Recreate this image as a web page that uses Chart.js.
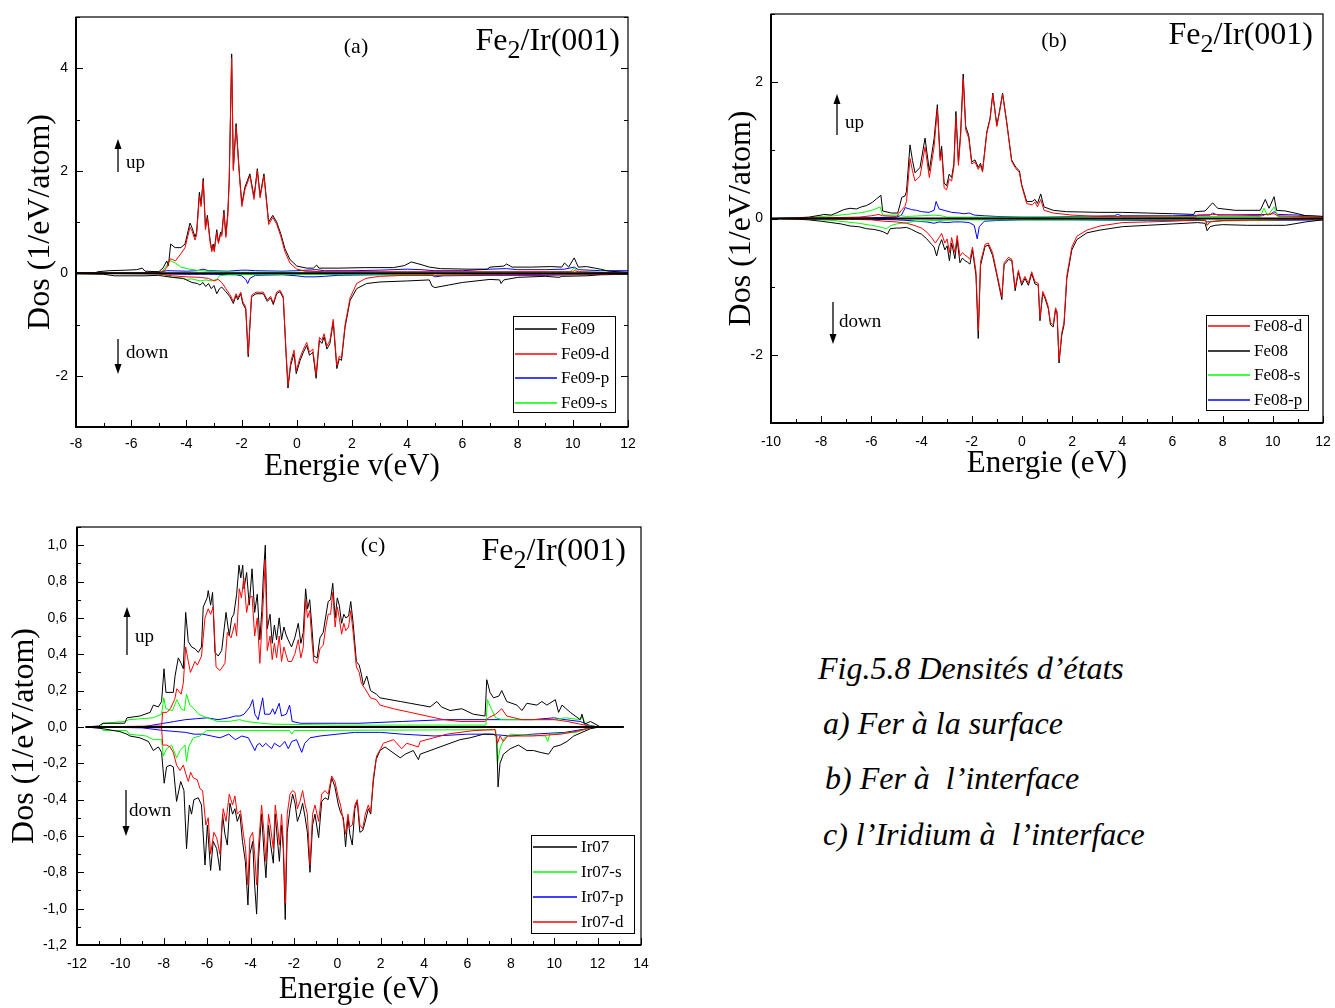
<!DOCTYPE html>
<html>
<head>
<meta charset="utf-8">
<title>Fe2/Ir(001) - densités d'états</title>
<script src="https://cdn.jsdelivr.net/npm/chart.js@4.4.1/dist/chart.umd.min.js"></script>
<style>
body{margin:0;background:#fff;}
#page{position:relative;width:1335px;height:1008px;overflow:hidden;background:#fff;}
canvas{position:absolute;}
.cap{position:absolute;font-family:'Liberation Serif',serif;font-style:italic;font-size:32px;white-space:pre;line-height:1;color:#000;}
</style>
</head>
<body>
<div id="page">
<canvas id="dosA" width="650" height="495" style="left:0;top:0"></canvas>
<canvas id="dosB" width="635" height="495" style="left:700px;top:0"></canvas>
<canvas id="dosC" width="660" height="503" style="left:0;top:505px"></canvas>
<div class="cap" style="left:818px;top:652px">Fig.5.8 Densités d’états</div>
<div class="cap" style="left:823px;top:707px">a) Fer à la surface</div>
<div class="cap" style="left:825px;top:762px">b) Fer à  l’interface</div>
<div class="cap" style="left:823px;top:818px">c) l’Iridium à  l’interface</div>
</div>
<script>
// ---- (a) Fe09, surface : [energie eV, dos] ----
const aLabels = ['Fe09', 'Fe09-d', 'Fe09-p', 'Fe09-s'];
const aXTicks = [-8, -6, -4, -2, 0, 2, 4, 6, 8, 10, 12];
const aYTicks = [-2, 0, 2, 4];
const aTotUp = [[-8,0.01],[-7.3,0.01],[-7.2,0.03],[-6.8,0.05],[-6.2,0.06],[-5.8,0.07],[-5.6,0.1],[-5.5,0.04],[-5.0,0.03],[-4.85,0.1],[-4.71,0.24],[-4.65,0.15],[-4.57,0.57],[-4.41,0.5],[-4.2,0.5],[-4.05,0.57],[-3.87,0.98],[-3.79,0.88],[-3.69,0.71],[-3.63,0.8],[-3.53,1.58],[-3.47,1.35],[-3.39,1.85],[-3.31,0.9],[-3.24,1.13],[-3.14,0.64],[-3.08,0.45],[-3.03,0.57],[-2.99,0.45],[-2.9,0.85],[-2.84,0.61],[-2.76,0.8],[-2.72,0.76],[-2.64,1.23],[-2.57,0.74],[-2.5,1.18],[-2.45,1.81],[-2.36,4.28],[-2.3,2.04],[-2.2,2.92],[-2.16,2.6],[-2.08,1.94],[-1.99,1.35],[-1.88,1.68],[-1.7,1.94],[-1.55,1.49],[-1.43,2.04],[-1.33,1.52],[-1.19,1.94],[-1.02,1.0],[-0.87,1.13],[-0.73,1.0],[-0.58,0.77],[-0.43,0.48],[-0.25,0.27],[0.0,0.14],[0.36,0.1],[0.6,0.1],[0.72,0.16],[0.8,0.1],[1.5,0.1],[2.5,0.11],[3.5,0.11],[3.9,0.15],[4.15,0.22],[4.5,0.17],[4.8,0.12],[5.2,0.09],[6.2,0.08],[6.9,0.08],[7.0,0.12],[7.5,0.14],[7.6,0.18],[7.8,0.12],[8.5,0.12],[9.2,0.13],[9.6,0.12],[9.7,0.2],[9.85,0.12],[10.05,0.3],[10.2,0.12],[10.5,0.13],[10.8,0.1],[11.0,0.08],[11.3,0.04],[12,0.02]];
const aTotDn = [[-8,-0.01],[-7,-0.02],[-6.6,-0.05],[-5.5,-0.05],[-5,-0.04],[-4.8,-0.06],[-4.5,-0.08],[-4.11,-0.1],[-4.0,-0.13],[-3.8,-0.18],[-3.6,-0.2],[-3.51,-0.23],[-3.4,-0.18],[-3.3,-0.26],[-3.2,-0.2],[-3.1,-0.3],[-3.0,-0.24],[-2.9,-0.4],[-2.8,-0.3],[-2.72,-0.27],[-2.57,-0.36],[-2.42,-0.46],[-2.3,-0.59],[-2.2,-0.43],[-2.14,-0.52],[-2.03,-0.4],[-1.96,-0.59],[-1.85,-0.7],[-1.76,-1.63],[-1.64,-0.46],[-1.48,-0.4],[-1.21,-0.4],[-1.07,-0.55],[-0.95,-0.48],[-0.85,-0.61],[-0.73,-0.4],[-0.61,-0.36],[-0.49,-0.48],[-0.39,-1.57],[-0.32,-2.24],[-0.22,-1.79],[-0.1,-1.57],[-0.02,-1.96],[0.12,-1.7],[0.24,-1.54],[0.36,-1.41],[0.46,-1.6],[0.58,-1.54],[0.7,-2.05],[0.82,-1.31],[0.91,-1.37],[0.99,-1.24],[1.09,-1.48],[1.2,-1.37],[1.32,-0.95],[1.45,-1.86],[1.54,-1.67],[1.62,-1.7],[1.75,-1.05],[1.93,-0.53],[2.17,-0.3],[2.53,-0.2],[3.01,-0.17],[4,-0.15],[4.8,-0.13],[4.9,-0.25],[5.0,-0.28],[5.5,-0.23],[6,-0.18],[7,-0.12],[7.35,-0.13],[7.4,-0.2],[7.5,-0.13],[8,-0.08],[9,-0.06],[9.5,-0.08],[9.6,-0.06],[10.5,-0.05],[11,-0.03],[12,-0.02]];
const aDUp = [[-8,0.0],[-5,0.01],[-4.8,0.05],[-4.7,0.12],[-4.6,0.28],[-4.5,0.27],[-4.4,0.24],[-4.2,0.38],[-4.05,0.5],[-3.87,0.9],[-3.79,0.82],[-3.69,0.65],[-3.63,0.75],[-3.53,1.5],[-3.47,1.3],[-3.39,1.8],[-3.31,0.85],[-3.24,1.08],[-3.14,0.6],[-3.08,0.42],[-3.03,0.53],[-2.99,0.42],[-2.9,0.8],[-2.84,0.58],[-2.76,0.76],[-2.72,0.72],[-2.64,1.18],[-2.57,0.7],[-2.5,1.12],[-2.45,1.76],[-2.36,4.2],[-2.3,2.0],[-2.2,2.86],[-2.16,2.55],[-2.08,1.9],[-1.99,1.3],[-1.88,1.63],[-1.7,1.9],[-1.55,1.44],[-1.43,2.0],[-1.33,1.47],[-1.19,1.9],[-1.02,0.95],[-0.87,1.09],[-0.73,0.96],[-0.58,0.72],[-0.43,0.42],[-0.25,0.2],[0.0,0.08],[0.3,0.04],[1,0.03],[4,0.03],[7,0.03],[10,0.03],[10.05,0.05],[10.2,0.03],[11.3,0.01],[12,0.0]];
const aDDn = [[-8,0],[-5,-0.01],[-4.8,-0.03],[-4.5,-0.05],[-4,-0.07],[-3.5,-0.08],[-3.2,-0.1],[-3.0,-0.15],[-2.85,-0.12],[-2.72,-0.18],[-2.57,-0.3],[-2.42,-0.42],[-2.3,-0.55],[-2.2,-0.4],[-2.14,-0.48],[-2.03,-0.37],[-1.96,-0.55],[-1.85,-0.66],[-1.76,-1.58],[-1.64,-0.43],[-1.48,-0.37],[-1.21,-0.37],[-1.07,-0.52],[-0.95,-0.45],[-0.85,-0.58],[-0.73,-0.37],[-0.61,-0.33],[-0.49,-0.45],[-0.39,-1.52],[-0.32,-2.18],[-0.22,-1.73],[-0.1,-1.5],[-0.02,-1.9],[0.12,-1.64],[0.24,-1.48],[0.36,-1.35],[0.46,-1.54],[0.58,-1.48],[0.7,-1.98],[0.82,-1.25],[0.91,-1.31],[0.99,-1.18],[1.09,-1.42],[1.2,-1.31],[1.32,-0.9],[1.45,-1.8],[1.54,-1.62],[1.62,-1.65],[1.75,-1.0],[1.93,-0.48],[2.17,-0.2],[2.5,-0.1],[3,-0.06],[4,-0.04],[5,-0.04],[7,-0.03],[12,-0.01]];
const aPUp = [[-8,0.0],[-6,0.01],[-5,0.02],[-4.7,0.05],[-4,0.04],[-3.6,0.05],[-3.4,0.08],[-3.2,0.05],[-2.5,0.04],[-2.0,0.06],[-1.8,0.06],[-1.5,0.05],[-0.5,0.04],[0,0.05],[0.7,0.07],[1,0.05],[2,0.05],[3,0.06],[4,0.08],[4.5,0.07],[5,0.05],[6,0.05],[7,0.08],[7.6,0.09],[8,0.07],[9,0.07],[9.7,0.08],[10.05,0.12],[10.2,0.07],[11,0.05],[12,0.05]];
const aPDn = [[-8,0],[-5,-0.01],[-4,-0.02],[-3,-0.02],[-2.2,-0.03],[-2.0,-0.05],[-1.85,-0.12],[-1.78,-0.2],[-1.7,-0.1],[-1.5,-0.04],[-0.5,-0.03],[0,-0.05],[0.3,-0.07],[0.7,-0.07],[1,-0.06],[1.5,-0.04],[3,-0.03],[4.9,-0.04],[5.0,-0.07],[5.3,-0.05],[7,-0.04],[9,-0.04],[10,-0.03],[12,-0.02]];
const aSUp = [[-8,0],[-7,0.01],[-5.5,0.01],[-4.9,0.03],[-4.75,0.12],[-4.6,0.25],[-4.4,0.2],[-4.2,0.12],[-3.9,0.08],[-3.5,0.05],[-3,0.03],[-2,0.02],[0,0.02],[4,0.02],[9.9,0.03],[10.05,0.1],[10.2,0.03],[12,0.01]];
const aSDn = [[-8,0],[-5,-0.01],[-4.8,-0.03],[-4.5,-0.08],[-4.2,-0.1],[-4.0,-0.12],[-3.8,-0.11],[-3.5,-0.15],[-3.3,-0.13],[-3.1,-0.15],[-2.9,-0.12],[-2.8,-0.05],[-2.5,-0.03],[-1,-0.02],[4.9,-0.02],[5,-0.05],[5.3,-0.03],[12,-0.01]];

// ---- (b) Fe08, interface ----
const bLabels = ['Fe08-d', 'Fe08', 'Fe08-s', 'Fe08-p'];
const bXTicks = [-10, -8, -6, -4, -2, 0, 2, 4, 6, 8, 10, 12];
const bYTicks = [-2, 0, 2];
const bDUp = [[-10,0],[-8,0.01],[-6.5,0.02],[-6,0.04],[-5.7,0.06],[-5.55,0.04],[-5,0.03],[-4.8,0.12],[-4.66,0.18],[-4.6,0.25],[-4.46,0.88],[-4.36,0.7],[-4.26,0.55],[-4.06,0.62],[-3.86,1.05],[-3.69,0.6],[-3.5,1.05],[-3.37,1.6],[-3.26,0.85],[-3.2,0.98],[-3.1,0.45],[-3.0,0.42],[-2.9,0.58],[-2.8,0.55],[-2.71,0.76],[-2.63,1.5],[-2.53,0.78],[-2.44,1.22],[-2.34,2.05],[-2.24,1.3],[-2.12,1.18],[-2.0,0.8],[-1.87,0.83],[-1.74,0.72],[-1.65,0.78],[-1.57,0.68],[-1.4,1.25],[-1.27,1.45],[-1.16,1.82],[-1.0,1.35],[-0.9,1.54],[-0.77,1.82],[-0.61,1.41],[-0.41,0.84],[-0.24,0.73],[-0.1,0.68],[-0.01,0.48],[0.19,0.22],[0.41,0.2],[0.52,0.24],[0.62,0.17],[0.75,0.28],[0.88,0.12],[1.25,0.08],[2,0.05],[3,0.03],[6,0.02],[6.9,0.02],[7.0,0.05],[7.6,0.06],[9.6,0.04],[9.7,0.06],[10.05,0.07],[10.2,0.04],[12,0.02]];
const bDDn = [[-10,0],[-7,-0.01],[-6,-0.02],[-5.5,-0.04],[-5,-0.05],[-4.6,-0.07],[-4.3,-0.1],[-4.0,-0.14],[-3.79,-0.2],[-3.6,-0.28],[-3.45,-0.36],[-3.3,-0.28],[-3.2,-0.22],[-3.07,-0.36],[-2.98,-0.3],[-2.89,-0.5],[-2.8,-0.28],[-2.67,-0.5],[-2.58,-0.25],[-2.47,-0.55],[-2.37,-0.5],[-2.27,-0.54],[-2.17,-0.56],[-2.07,-0.6],[-1.97,-0.42],[-1.83,-0.78],[-1.74,-1.65],[-1.65,-0.64],[-1.47,-0.38],[-1.34,-0.36],[-1.17,-0.5],[-1.0,-0.8],[-0.8,-1.15],[-0.71,-0.65],[-0.53,-0.57],[-0.4,-0.6],[-0.27,-1.02],[-0.14,-0.76],[-0.01,-0.95],[0.12,-0.85],[0.26,-0.95],[0.39,-0.78],[0.52,-0.93],[0.65,-0.95],[0.72,-1.46],[0.83,-1.07],[0.92,-1.14],[1.05,-1.29],[1.14,-1.53],[1.25,-1.56],[1.34,-1.31],[1.4,-1.36],[1.48,-2.08],[1.59,-1.67],[1.68,-1.52],[1.79,-0.84],[1.99,-0.42],[2.19,-0.26],[2.59,-0.17],[3.11,-0.11],[4,-0.06],[5,-0.05],[6,-0.04],[7,-0.02],[7.33,-0.03],[7.38,-0.1],[7.5,-0.05],[8,-0.03],[12,-0.01]];
const bTotUp = [[-10,0.0],[-9,0.01],[-8.5,0.02],[-8,0.05],[-7.9,0.06],[-7.6,0.05],[-7.4,0.08],[-7.1,0.13],[-6.85,0.15],[-6.6,0.14],[-6.4,0.17],[-6.19,0.19],[-5.95,0.24],[-5.79,0.29],[-5.62,0.34],[-5.55,0.11],[-5.2,0.08],[-4.95,0.08],[-4.86,0.2],[-4.79,0.31],[-4.66,0.33],[-4.6,0.4],[-4.46,1.08],[-4.36,0.85],[-4.26,0.67],[-4.06,0.75],[-3.86,1.18],[-3.69,0.7],[-3.5,1.17],[-3.37,1.67],[-3.26,0.9],[-3.2,1.06],[-3.1,0.52],[-3.0,0.48],[-2.9,0.65],[-2.8,0.6],[-2.71,0.81],[-2.63,1.57],[-2.53,0.83],[-2.44,1.27],[-2.34,2.12],[-2.24,1.35],[-2.12,1.22],[-2.0,0.83],[-1.87,0.86],[-1.74,0.75],[-1.65,0.81],[-1.57,0.7],[-1.4,1.27],[-1.27,1.47],[-1.16,1.84],[-1.0,1.37],[-0.9,1.56],[-0.77,1.84],[-0.61,1.43],[-0.41,0.86],[-0.24,0.75],[-0.1,0.7],[-0.01,0.5],[0.19,0.25],[0.41,0.25],[0.52,0.28],[0.62,0.22],[0.75,0.36],[0.88,0.17],[1.25,0.12],[1.78,0.1],[3.11,0.09],[4,0.09],[5,0.08],[6,0.07],[6.85,0.06],[6.9,0.1],[7.3,0.11],[7.6,0.23],[7.8,0.15],[8.5,0.12],[9.5,0.12],[9.7,0.28],[9.85,0.15],[10.05,0.32],[10.15,0.12],[10.5,0.11],[11,0.07],[11.3,0.04],[12,0.03]];
const bTotDn = [[-10,0],[-9,-0.01],[-8.5,-0.02],[-8,-0.04],[-7.6,-0.06],[-7.2,-0.08],[-6.85,-0.11],[-6.5,-0.12],[-6.19,-0.15],[-5.9,-0.16],[-5.66,-0.18],[-5.5,-0.2],[-5.36,-0.23],[-5.25,-0.15],[-5.0,-0.14],[-4.86,-0.14],[-4.6,-0.13],[-4.4,-0.16],[-4.19,-0.2],[-4.0,-0.23],[-3.79,-0.3],[-3.6,-0.38],[-3.5,-0.42],[-3.4,-0.55],[-3.3,-0.4],[-3.2,-0.31],[-3.07,-0.46],[-2.98,-0.4],[-2.89,-0.62],[-2.8,-0.36],[-2.67,-0.59],[-2.58,-0.31],[-2.47,-0.65],[-2.37,-0.58],[-2.27,-0.62],[-2.17,-0.64],[-2.07,-0.67],[-1.97,-0.46],[-1.83,-0.84],[-1.74,-1.76],[-1.65,-0.69],[-1.47,-0.41],[-1.34,-0.39],[-1.17,-0.54],[-1.0,-0.83],[-0.8,-1.19],[-0.71,-0.68],[-0.53,-0.6],[-0.4,-0.62],[-0.27,-1.06],[-0.14,-0.79],[-0.01,-0.98],[0.12,-0.88],[0.26,-0.98],[0.39,-0.81],[0.52,-0.96],[0.65,-0.98],[0.72,-1.5],[0.83,-1.1],[0.92,-1.17],[1.05,-1.32],[1.14,-1.56],[1.25,-1.59],[1.34,-1.34],[1.4,-1.39],[1.48,-2.12],[1.59,-1.71],[1.68,-1.56],[1.79,-0.88],[1.99,-0.46],[2.19,-0.31],[2.59,-0.21],[3.11,-0.17],[4,-0.12],[5,-0.1],[6,-0.08],[7,-0.06],[7.3,-0.07],[7.38,-0.18],[7.5,-0.12],[7.7,-0.1],[8,-0.09],[9,-0.1],[10,-0.1],[10.5,-0.1],[11,-0.07],[11.3,-0.05],[12,-0.02]];
const bSUp = [[-10,0],[-8.5,0.01],[-8,0.03],[-7.5,0.04],[-7,0.06],[-6.5,0.08],[-6.2,0.1],[-5.9,0.13],[-5.65,0.17],[-5.55,0.05],[-5,0.05],[-4.6,0.03],[-4,0.04],[-3.5,0.05],[-3.2,0.04],[-3,0.02],[0,0.02],[9.5,0.03],[9.65,0.15],[9.8,0.04],[10.05,0.17],[10.2,0.03],[12,0.01]];
const bSDn = [[-10,0],[-8.5,-0.01],[-8,-0.02],[-7.5,-0.03],[-7,-0.05],[-6.5,-0.07],[-6.0,-0.1],[-5.7,-0.12],[-5.4,-0.15],[-5.2,-0.1],[-5,-0.08],[-4.6,-0.06],[-4.2,-0.04],[-3.5,-0.03],[-2.5,-0.02],[7.3,-0.02],[7.38,-0.1],[7.5,-0.04],[12,-0.01]];
const bPUp = [[-10,0],[-6,0.01],[-5,0.02],[-4.8,0.05],[-4.65,0.16],[-4.4,0.13],[-4.2,0.12],[-4,0.1],[-3.7,0.09],[-3.5,0.12],[-3.42,0.25],[-3.3,0.14],[-3.1,0.12],[-2.8,0.09],[-2.5,0.08],[-2.3,0.07],[-2.1,0.08],[-1.9,0.05],[-1.5,0.04],[-1,0.03],[0,0.02],[1,0.02],[2,0.03],[3.7,0.04],[3.8,0.06],[4,0.04],[6,0.04],[7.5,0.05],[7.6,0.08],[7.8,0.05],[9.9,0.06],[10.05,0.1],[10.2,0.06],[11,0.05],[12,0.03]];
const bPDn = [[-10,0],[-6,-0.01],[-5,-0.02],[-4.5,-0.03],[-4.2,-0.04],[-3.8,-0.05],[-3.5,-0.07],[-3.3,-0.05],[-3,-0.06],[-2.7,-0.05],[-2.4,-0.05],[-2.1,-0.06],[-1.9,-0.1],[-1.78,-0.3],[-1.7,-0.12],[-1.5,-0.04],[-1,-0.03],[0,-0.02],[2,-0.02],[5,-0.03],[7.3,-0.03],[7.4,-0.05],[8,-0.03],[10,-0.03],[12,-0.02]];

// ---- (c) Ir07, interface ----
const cLabels = ['Ir07', 'Ir07-s', 'Ir07-p', 'Ir07-d'];
const cXTicks = [-12, -10, -8, -6, -4, -2, 0, 2, 4, 6, 8, 10, 12, 14];
const cYTicks = [-1.2, -1.0, -0.8, -0.6, -0.4, -0.2, 0.0, 0.2, 0.4, 0.6, 0.8, 1.0];
const cTotUp = [[-11.6,0],[-11,0.005],[-10.8,0.02],[-9.8,0.02],[-9.7,0.05],[-9.1,0.06],[-8.63,0.08],[-8.48,0.12],[-8.25,0.11],[-8.1,0.14],[-7.99,0.32],[-7.9,0.19],[-7.56,0.19],[-7.48,0.28],[-7.33,0.38],[-7.2,0.35],[-7.1,0.32],[-6.99,0.63],[-6.87,0.47],[-6.72,0.44],[-6.56,0.43],[-6.41,0.41],[-6.26,0.44],[-6.18,0.66],[-6.0,0.71],[-5.95,0.75],[-5.84,0.67],[-5.75,0.74],[-5.64,0.41],[-5.49,0.39],[-5.33,0.42],[-5.13,0.63],[-4.98,0.5],[-4.87,0.6],[-4.77,0.62],[-4.64,0.73],[-4.53,0.89],[-4.45,0.82],[-4.36,0.89],[-4.3,0.76],[-4.18,0.85],[-4.06,0.67],[-3.93,0.87],[-3.81,0.63],[-3.69,0.73],[-3.57,0.48],[-3.48,0.64],[-3.41,0.83],[-3.32,1.0],[-3.23,0.54],[-3.1,0.62],[-3.0,0.46],[-2.9,0.56],[-2.8,0.48],[-2.68,0.6],[-2.57,0.48],[-2.46,0.55],[-2.37,0.51],[-2.27,0.48],[-2.11,0.44],[-1.96,0.49],[-1.8,0.57],[-1.68,0.46],[-1.57,0.52],[-1.46,0.76],[-1.37,0.65],[-1.27,0.7],[-1.16,0.53],[-1.08,0.39],[-0.93,0.38],[-0.8,0.49],[-0.65,0.52],[-0.53,0.61],[-0.42,0.69],[-0.31,0.7],[-0.21,0.79],[-0.1,0.6],[0.0,0.71],[0.09,0.67],[0.2,0.57],[0.3,0.62],[0.39,0.6],[0.52,0.61],[0.62,0.69],[0.73,0.57],[0.88,0.36],[1.01,0.34],[1.11,0.29],[1.2,0.23],[1.36,0.28],[1.53,0.2],[1.8,0.18],[1.97,0.16],[2.43,0.15],[2.9,0.14],[3.36,0.13],[3.82,0.12],[4.28,0.11],[4.59,0.14],[4.8,0.11],[5.2,0.09],[5.74,0.1],[6.27,0.07],[6.81,0.06],[6.89,0.26],[7.04,0.19],[7.2,0.16],[7.45,0.17],[7.58,0.2],[7.81,0.14],[8.28,0.12],[8.51,0.09],[8.74,0.13],[9.2,0.12],[9.43,0.14],[9.66,0.12],[10.05,0.15],[10.2,0.08],[10.36,0.12],[10.74,0.08],[11.2,0.04],[11.28,0.07],[11.39,0.015],[11.67,0.03],[12.13,0.0],[13.2,0]];
const cTotDn = [[-11.6,0],[-10.8,-0.01],[-10.02,-0.026],[-9.7,-0.04],[-9.56,-0.05],[-9.1,-0.06],[-8.71,-0.08],[-8.48,-0.13],[-8.25,-0.11],[-8.1,-0.14],[-7.98,-0.31],[-7.87,-0.22],[-7.71,-0.21],[-7.56,-0.22],[-7.41,-0.41],[-7.22,-0.3],[-7.07,-0.35],[-6.95,-0.67],[-6.82,-0.43],[-6.72,-0.48],[-6.61,-0.4],[-6.41,-0.39],[-6.26,-0.43],[-6.1,-0.76],[-5.99,-0.54],[-5.84,-0.79],[-5.72,-0.63],[-5.56,-0.67],[-5.41,-0.79],[-5.29,-0.48],[-5.18,-0.59],[-5.07,-0.65],[-4.95,-0.42],[-4.83,-0.48],[-4.72,-0.45],[-4.61,-0.52],[-4.49,-0.48],[-4.37,-0.63],[-4.24,-0.74],[-4.12,-0.98],[-4.03,-0.7],[-3.9,-0.63],[-3.81,-0.87],[-3.72,-1.03],[-3.63,-0.72],[-3.49,-0.48],[-3.38,-0.69],[-3.29,-0.83],[-3.17,-0.54],[-3.07,-0.65],[-2.95,-0.75],[-2.86,-0.48],[-2.77,-0.61],[-2.67,-0.74],[-2.57,-0.54],[-2.49,-0.67],[-2.4,-1.06],[-2.31,-0.58],[-2.18,-0.45],[-2.06,-0.37],[-1.95,-0.42],[-1.84,-0.52],[-1.72,-0.48],[-1.6,-0.42],[-1.48,-0.5],[-1.38,-0.58],[-1.26,-0.8],[-1.14,-0.54],[-1.03,-0.48],[-0.86,-0.61],[-0.72,-0.41],[-0.57,-0.39],[-0.42,-0.4],[-0.26,-0.28],[-0.11,-0.33],[0.05,-0.43],[0.15,-0.47],[0.28,-0.5],[0.38,-0.66],[0.49,-0.5],[0.58,-0.59],[0.69,-0.65],[0.81,-0.45],[0.92,-0.41],[1.04,-0.58],[1.17,-0.57],[1.29,-0.52],[1.43,-0.45],[1.54,-0.48],[1.66,-0.3],[1.79,-0.18],[1.97,-0.13],[2.2,-0.11],[2.43,-0.13],[2.9,-0.17],[3.13,-0.15],[3.5,-0.13],[3.74,-0.18],[3.82,-0.15],[4.28,-0.13],[4.74,-0.11],[5.2,-0.09],[5.66,-0.07],[6.12,-0.06],[6.74,-0.04],[7.2,-0.04],[7.35,-0.05],[7.41,-0.33],[7.5,-0.2],[7.66,-0.15],[7.97,-0.12],[8.35,-0.1],[8.74,-0.13],[9.05,-0.13],[9.35,-0.14],[9.74,-0.15],[9.97,-0.11],[10.28,-0.1],[10.59,-0.08],[10.9,-0.05],[11.28,-0.03],[11.67,-0.01],[12.1,0],[13.2,0]];
const cSUp = [[-11.6,0],[-10.9,0.0],[-10.8,0.02],[-9.8,0.03],[-9.6,0.04],[-8.5,0.05],[-8.1,0.07],[-8.0,0.16],[-7.9,0.1],[-7.6,0.09],[-7.4,0.15],[-7.2,0.1],[-7.05,0.09],[-6.95,0.18],[-6.8,0.12],[-6.6,0.1],[-6.4,0.07],[-6.0,0.05],[-5.5,0.03],[-5.0,0.03],[-4.5,0.04],[-4.2,0.03],[-3.5,0.02],[-3.0,0.015],[0,0.01],[6.85,0.01],[6.92,0.15],[7.1,0.1],[7.3,0.05],[7.6,0.04],[10,0.04],[10.5,0.05],[11.2,0.04],[11.3,0.06],[11.45,0.01],[12,0],[13.2,0]];
const cSDn = [[-11.6,0],[-10.9,0],[-10.8,-0.02],[-9.7,-0.02],[-9.6,-0.04],[-8.8,-0.05],[-8.48,-0.07],[-8.1,-0.07],[-8.02,-0.16],[-7.87,-0.12],[-7.64,-0.1],[-7.41,-0.17],[-7.25,-0.13],[-7.02,-0.1],[-6.95,-0.19],[-6.85,-0.11],[-6.64,-0.06],[-6.33,-0.05],[-6.02,-0.02],[-2.2,-0.02],[-2.1,-0.04],[-2.0,-0.02],[7.3,-0.015],[7.38,-0.2],[7.5,-0.12],[7.7,-0.06],[8,-0.04],[9.6,-0.05],[9.7,-0.08],[9.8,-0.04],[11,-0.03],[11.5,-0.01],[12,0],[13.2,0]];
const cPUp = [[-11.6,0],[-9,0.0],[-8.5,0.01],[-8,0.02],[-7.5,0.03],[-7,0.04],[-6.5,0.045],[-6,0.05],[-5.5,0.04],[-5,0.05],[-4.7,0.06],[-4.49,0.06],[-4.3,0.07],[-4.03,0.11],[-3.9,0.15],[-3.8,0.07],[-3.65,0.04],[-3.44,0.16],[-3.35,0.07],[-3.1,0.07],[-2.98,0.1],[-2.88,0.07],[-2.68,0.13],[-2.57,0.06],[-2.35,0.07],[-2.2,0.12],[-2.08,0.03],[-1.7,0.02],[0,0.02],[1,0.02],[3,0.03],[5,0.04],[7,0.04],[9,0.04],[10,0.05],[10.5,0.04],[11.2,0.03],[11.6,0.01],[12,0],[13.2,0]];
const cPDn = [[-11.6,0],[-9,-0.005],[-8,-0.02],[-7,-0.03],[-6.6,-0.04],[-6.2,-0.04],[-5.8,-0.05],[-5.41,-0.06],[-5.0,-0.04],[-4.7,-0.07],[-4.4,-0.05],[-4.1,-0.06],[-3.8,-0.13],[-3.7,-0.1],[-3.58,-0.09],[-3.45,-0.11],[-3.3,-0.09],[-3.03,-0.12],[-2.9,-0.09],[-2.65,-0.11],[-2.42,-0.08],[-2.26,-0.12],[-2.1,-0.08],[-1.88,-0.07],[-1.64,-0.14],[-1.5,-0.09],[-1.26,-0.06],[-0.8,-0.05],[0,-0.04],[0.8,-0.03],[2,-0.03],[3,-0.04],[4.5,-0.05],[6,-0.04],[7,-0.04],[8,-0.05],[9,-0.04],[10.5,-0.03],[11.5,-0.01],[12,0],[13.2,0]];
const cDUp = [[-11.6,0],[-8.1,0.005],[-8.05,0.08],[-7.85,0.08],[-7.7,0.1],[-7.5,0.15],[-7.4,0.21],[-7.2,0.18],[-7.1,0.24],[-6.99,0.44],[-6.9,0.38],[-6.77,0.3],[-6.56,0.36],[-6.45,0.34],[-6.26,0.39],[-6.1,0.6],[-5.95,0.65],[-5.84,0.62],[-5.72,0.66],[-5.59,0.33],[-5.41,0.31],[-5.18,0.35],[-5.07,0.52],[-4.9,0.49],[-4.72,0.57],[-4.64,0.5],[-4.52,0.76],[-4.42,0.71],[-4.31,0.82],[-4.18,0.63],[-4.06,0.71],[-3.93,0.72],[-3.81,0.5],[-3.69,0.6],[-3.57,0.35],[-3.48,0.55],[-3.41,0.7],[-3.32,0.92],[-3.23,0.42],[-3.1,0.5],[-3.0,0.37],[-2.9,0.46],[-2.8,0.38],[-2.68,0.5],[-2.57,0.36],[-2.46,0.44],[-2.37,0.4],[-2.27,0.36],[-2.11,0.36],[-1.96,0.4],[-1.8,0.48],[-1.68,0.38],[-1.57,0.44],[-1.46,0.7],[-1.37,0.6],[-1.27,0.64],[-1.16,0.46],[-1.08,0.36],[-0.93,0.35],[-0.8,0.43],[-0.65,0.45],[-0.53,0.55],[-0.42,0.62],[-0.31,0.62],[-0.21,0.74],[-0.1,0.55],[0.0,0.66],[0.09,0.6],[0.2,0.51],[0.3,0.57],[0.39,0.53],[0.52,0.55],[0.62,0.64],[0.73,0.52],[0.88,0.33],[1.01,0.3],[1.11,0.24],[1.28,0.21],[1.53,0.16],[1.8,0.15],[1.97,0.12],[2.59,0.1],[3.36,0.08],[4.13,0.06],[4.9,0.04],[5.66,0.03],[6.81,0.03],[6.97,0.05],[7.3,0.07],[7.58,0.1],[7.81,0.06],[8.5,0.04],[10,0.04],[10.6,0.03],[11.2,0.015],[11.8,0.0],[13.2,0]];
const cDDn = [[-11.6,0],[-8.1,-0.005],[-8.05,-0.1],[-7.87,-0.1],[-7.71,-0.11],[-7.56,-0.14],[-7.41,-0.21],[-7.25,-0.24],[-7.1,-0.21],[-6.98,-0.26],[-6.87,-0.3],[-6.76,-0.25],[-6.64,-0.28],[-6.46,-0.29],[-6.33,-0.34],[-6.21,-0.35],[-6.06,-0.54],[-5.95,-0.5],[-5.84,-0.7],[-5.69,-0.58],[-5.56,-0.61],[-5.41,-0.7],[-5.26,-0.45],[-5.13,-0.52],[-4.98,-0.37],[-4.83,-0.43],[-4.72,-0.38],[-4.61,-0.48],[-4.46,-0.46],[-4.33,-0.59],[-4.23,-0.67],[-4.12,-0.87],[-4.03,-0.61],[-3.9,-0.58],[-3.81,-0.7],[-3.72,-0.87],[-3.63,-0.65],[-3.49,-0.43],[-3.38,-0.58],[-3.29,-0.74],[-3.17,-0.48],[-3.07,-0.56],[-2.95,-0.67],[-2.86,-0.43],[-2.77,-0.52],[-2.67,-0.65],[-2.57,-0.48],[-2.49,-0.63],[-2.4,-0.97],[-2.31,-0.48],[-2.18,-0.37],[-2.06,-0.35],[-1.95,-0.36],[-1.84,-0.45],[-1.72,-0.41],[-1.6,-0.35],[-1.48,-0.43],[-1.38,-0.48],[-1.26,-0.76],[-1.14,-0.48],[-1.03,-0.43],[-0.86,-0.52],[-0.72,-0.37],[-0.57,-0.35],[-0.42,-0.37],[-0.26,-0.27],[-0.11,-0.3],[0.05,-0.39],[0.15,-0.43],[0.28,-0.52],[0.38,-0.59],[0.49,-0.48],[0.58,-0.55],[0.69,-0.54],[0.81,-0.43],[0.92,-0.4],[1.04,-0.54],[1.17,-0.56],[1.29,-0.48],[1.43,-0.43],[1.54,-0.47],[1.66,-0.28],[1.81,-0.16],[2.0,-0.12],[2.12,-0.09],[2.59,-0.07],[2.97,-0.12],[3.2,-0.09],[3.74,-0.11],[3.82,-0.08],[4.44,-0.06],[5.05,-0.04],[5.66,-0.03],[6.3,-0.02],[7.27,-0.015],[7.38,-0.09],[7.5,-0.05],[7.66,-0.08],[7.85,-0.05],[9,-0.05],[10.3,-0.04],[11.2,-0.02],[11.8,0],[13.2,0]];

const BLACK = '#000000', RED = '#ff0000', BLUE = '#0000ff', GREEN = '#00ff00';
const SERIF = '"Liberation Serif", "Times New Roman", serif';

Chart.defaults.font.family = '"Liberation Sans", Arial, sans-serif';
Chart.defaults.color = '#000';

// up-spin then a gap, then down-spin, as one line per orbital
function spin(up, down) {
  const pts = a => a.map(p => ({x: p[0], y: p[1]}));
  return pts(up).concat([{x: up[up.length - 1][0], y: null}], pts(down));
}

function arrow(ctx, x, yFrom, yTo) {
  const dir = yTo > yFrom ? 1 : -1;
  ctx.beginPath();
  ctx.moveTo(x, yFrom);
  ctx.lineTo(x, yTo - dir * 8);
  ctx.lineWidth = 1.3;
  ctx.stroke();
  ctx.beginPath();
  ctx.moveTo(x, yTo);
  ctx.lineTo(x - 3.5, yTo - dir * 10);
  ctx.lineTo(x + 3.5, yTo - dir * 10);
  ctx.closePath();
  ctx.fill();
}

function formula(ctx, xRight, yMid) {
  const big = '32px ' + SERIF, sub = '26px ' + SERIF;
  ctx.font = big;
  const w1 = ctx.measureText('Fe').width, w3 = ctx.measureText('/Ir(001)').width;
  ctx.font = sub;
  const w2 = ctx.measureText('2').width;
  let x = xRight - w1 - w2 - w3;
  ctx.textAlign = 'left';
  ctx.textBaseline = 'middle';
  ctx.font = big; ctx.fillText('Fe', x, yMid); x += w1;
  ctx.font = sub; ctx.fillText('2', x, yMid + 9); x += w2;
  ctx.font = big; ctx.fillText('/Ir(001)', x, yMid);
}

// zero line, frame, inward ticks, legend box and the labels inside the plot
function decorations(o) {
  return {
    id: 'deco',
    afterDatasetsDraw(chart) {
      const ctx = chart.ctx, a = chart.chartArea;
      const xs = chart.scales.x, ys = chart.scales.y;
      ctx.save();
      ctx.strokeStyle = '#000';
      ctx.fillStyle = '#000';

      const y0 = ys.getPixelForValue(0);
      ctx.lineWidth = 2;
      ctx.beginPath();
      ctx.moveTo(Math.max(a.left, xs.getPixelForValue(o.zeroFrom)), y0);
      ctx.lineTo(Math.min(a.right, xs.getPixelForValue(o.zeroTo)), y0);
      ctx.stroke();

      ctx.lineWidth = 1;
      const isMajor = (v, list) => list.some(t => Math.abs(t - v) < 1e-6);
      let n = Math.round((o.xMax - o.xMin) / o.xMinor);
      for (let i = 0; i <= n; i++) {
        const v = o.xMin + i * o.xMinor;
        const px = Math.round(xs.getPixelForValue(v)) + 0.5;
        const len = isMajor(v, o.xTicks) ? 7 : 4;
        ctx.beginPath(); ctx.moveTo(px, a.bottom); ctx.lineTo(px, a.bottom - len); ctx.stroke();
      }
      n = Math.round((o.yMax - o.yMin) / o.yMinor);
      for (let i = 0; i <= n; i++) {
        const v = o.yMin + i * o.yMinor;
        const py = Math.round(ys.getPixelForValue(v)) + 0.5;
        const len = isMajor(v, o.yTicks) ? 7 : 4;
        ctx.beginPath(); ctx.moveTo(a.left, py); ctx.lineTo(a.left + len, py); ctx.stroke();
        if (o.rightTicks) {
          ctx.beginPath(); ctx.moveTo(a.right, py); ctx.lineTo(a.right - len, py); ctx.stroke();
        }
      }

      ctx.lineWidth = 1.2;
      ctx.strokeRect(a.left, a.top, a.width, a.height);
      ctx.lineWidth = 2;
      ctx.beginPath();
      ctx.moveTo(a.left, a.top); ctx.lineTo(a.left, a.bottom); ctx.lineTo(a.right, a.bottom);
      ctx.stroke();

      // legend, in the order the series were listed
      const L = o.legend;
      ctx.fillStyle = '#fff';
      ctx.fillRect(L.x, L.y, L.w, L.h);
      ctx.lineWidth = 1;
      ctx.strokeStyle = '#000';
      ctx.strokeRect(L.x + 0.5, L.y + 0.5, L.w, L.h);
      ctx.font = '17px ' + SERIF;
      ctx.textAlign = 'left';
      ctx.textBaseline = 'middle';
      o.series.forEach((s, i) => {
        const ry = Math.round(L.y + L.first + i * L.step);
        ctx.lineWidth = 1.4;
        ctx.strokeStyle = s.color;
        ctx.beginPath(); ctx.moveTo(L.x + 2, ry); ctx.lineTo(L.x + L.line, ry); ctx.stroke();
        ctx.fillStyle = '#000';
        ctx.fillText(s.label, L.x + L.line + 4, ry + 1);
      });

      ctx.fillStyle = '#000';
      ctx.strokeStyle = '#000';
      ctx.font = '22px ' + SERIF;
      ctx.textAlign = 'center';
      ctx.textBaseline = 'middle';
      ctx.fillText(o.tag, o.tagX, o.tagY);
      formula(ctx, o.formulaX, o.formulaY);

      arrow(ctx, o.up.x, o.up.y1, o.up.y2);
      arrow(ctx, o.down.x, o.down.y1, o.down.y2);
      ctx.font = '19px ' + SERIF;
      ctx.textAlign = 'left';
      ctx.fillText('up', o.up.tx, o.up.ty);
      ctx.fillText('down', o.down.tx, o.down.ty);
      ctx.restore();
    }
  };
}

function dosChart(id, o) {
  const datasets = o.series.map(s => ({
    label: s.label,
    data: spin(s.up, s.down),
    borderColor: s.color,
    borderWidth: 1,
    pointRadius: 0,
    tension: 0,
    spanGaps: false,
    fill: false,
    order: s.order
  }));
  return new Chart(document.getElementById(id), {
    type: 'line',
    data: {datasets},
    options: {
      responsive: false,
      animation: false,
      events: [],
      layout: {padding: {top: o.padTop, right: o.padRight, left: 0, bottom: 0}},
      plugins: {legend: {display: false}, tooltip: {enabled: false}},
      scales: {
        x: {
          type: 'linear', min: o.xMin, max: o.xMax,
          afterBuildTicks: sc => { sc.ticks = o.xTicks.map(v => ({value: v})); },
          afterFit: sc => { sc.height = o.xHeight; sc.paddingLeft = 0; sc.paddingRight = 0; },
          grid: {display: false, drawTicks: false}, border: {display: false},
          ticks: {padding: o.xTickPad, font: {size: 14}, maxRotation: 0, autoSkip: false},
          title: {display: true, text: o.xTitle, font: {family: SERIF, size: 31},
                  padding: {top: 0, bottom: o.xTitlePad}}
        },
        y: {
          type: 'linear', min: o.yMin, max: o.yMax,
          afterBuildTicks: sc => { sc.ticks = o.yTicks.map(v => ({value: v})); },
          afterFit: sc => { sc.width = o.yWidth; sc.paddingTop = 0; sc.paddingBottom = 0; },
          grid: {display: false, drawTicks: false}, border: {display: false},
          ticks: {padding: o.yTickPad, font: {size: 14}, autoSkip: false,
                  callback: o.yFormat || (v => String(v))},
          title: {display: true, text: 'Dos (1/eV/atom)', font: {family: SERIF, size: 32},
                  padding: {top: o.yTitlePad, bottom: 0}}
        }
      }
    },
    plugins: [decorations(o)]
  });
}

// order: lower is drawn on top, so the d curves sit over the totals
dosChart('dosA', {
  series: [
    {label: aLabels[0], up: aTotUp, down: aTotDn, color: BLACK, order: 1},
    {label: aLabels[1], up: aDUp, down: aDDn, color: RED, order: 0},
    {label: aLabels[2], up: aPUp, down: aPDn, color: BLUE, order: 3},
    {label: aLabels[3], up: aSUp, down: aSDn, color: GREEN, order: 2}
  ],
  xMin: -8, xMax: 12, xTicks: aXTicks, xMinor: 1,
  yMin: -3, yMax: 5, yTicks: aYTicks, yMinor: 1, rightTicks: true,
  padTop: 17, padRight: 22, xHeight: 68, yWidth: 76,
  xTickPad: 9, yTickPad: 8, xTitlePad: 10, yTitlePad: 21,
  xTitle: 'Energie v(eV)',
  zeroFrom: -8, zeroTo: 12,
  legend: {x: 513, y: 316, w: 102, h: 96, first: 13, step: 24.5, line: 44},
  tag: '(a)', tagX: 356, tagY: 47, formulaX: 620, formulaY: 42,
  up: {x: 118, y1: 172, y2: 139, tx: 126, ty: 163},
  down: {x: 118, y1: 339, y2: 374, tx: 126, ty: 353}
});

dosChart('dosB', {
  series: [
    {label: bLabels[0], up: bDUp, down: bDDn, color: RED, order: 0},
    {label: bLabels[1], up: bTotUp, down: bTotDn, color: BLACK, order: 1},
    {label: bLabels[2], up: bSUp, down: bSDn, color: GREEN, order: 2},
    {label: bLabels[3], up: bPUp, down: bPDn, color: BLUE, order: 3}
  ],
  xMin: -10, xMax: 12, xTicks: bXTicks, xMinor: 1,
  yMin: -3, yMax: 3, yTicks: bYTicks, yMinor: 1, rightTicks: false,
  padTop: 14, padRight: 12, xHeight: 72, yWidth: 71,
  xTickPad: 11, yTickPad: 8, xTitlePad: 13, yTitlePad: 22,
  xTitle: 'Energie (eV)',
  zeroFrom: -10, zeroTo: 12,
  legend: {x: 506, y: 315, w: 102, h: 95, first: 11, step: 24.7, line: 44},
  tag: '(b)', tagX: 354, tagY: 41, formulaX: 613, formulaY: 36,
  up: {x: 137, y1: 135, y2: 94, tx: 145, ty: 123},
  down: {x: 133, y1: 302, y2: 344, tx: 139, ty: 322}
});

dosChart('dosC', {
  series: [
    {label: cLabels[0], up: cTotUp, down: cTotDn, color: BLACK, order: 1},
    {label: cLabels[1], up: cSUp, down: cSDn, color: GREEN, order: 2},
    {label: cLabels[2], up: cPUp, down: cPDn, color: BLUE, order: 3},
    {label: cLabels[3], up: cDUp, down: cDDn, color: RED, order: 0}
  ],
  xMin: -12, xMax: 14, xTicks: cXTicks, xMinor: 1,
  yMin: -1.2, yMax: 1.1, yTicks: cYTicks, yMinor: 0.1, rightTicks: false,
  padTop: 22, padRight: 19, xHeight: 63, yWidth: 77,
  xTickPad: 11, yTickPad: 10, xTitlePad: 0, yTitlePad: 5,
  xTitle: 'Energie (eV)',
  yFormat: v => v.toFixed(1).replace('.', ','),
  zeroFrom: -11.6, zeroTo: 13.2,
  legend: {x: 531, y: 330, w: 103, h: 98, first: 12, step: 25, line: 46},
  tag: '(c)', tagX: 373, tagY: 41, formulaX: 626, formulaY: 47,
  up: {x: 127, y1: 150, y2: 102, tx: 135, ty: 132},
  down: {x: 126, y1: 285, y2: 331, tx: 129, ty: 306}
});
</script>
</body>
</html>
